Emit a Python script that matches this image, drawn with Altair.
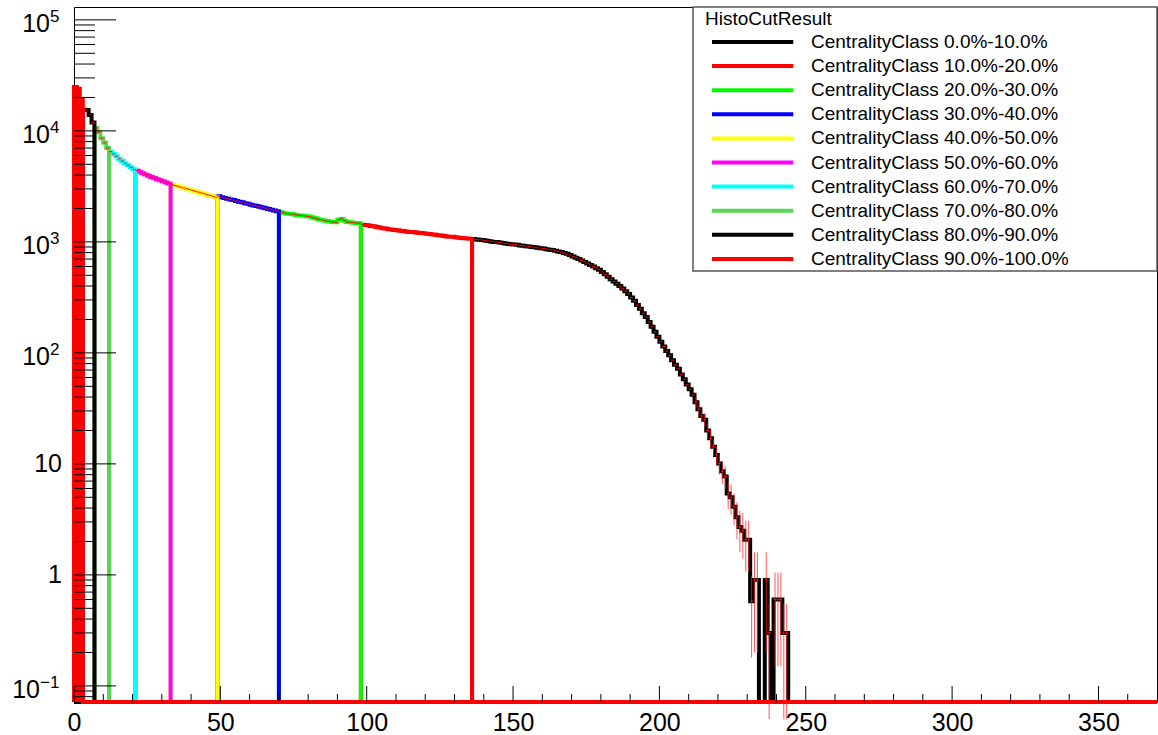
import altair as alt
import pandas as pd

# ---------------- data ----------------
# counts per multiplicity bin (bin b covers [b, b+1)), bins 0..243
counts = [
    24800, 24000, 19000,
    15500, 15400, 13900, 11900,
    10600, 9700, 8600, 7800, 7000,
    6500, 6200, 5900, 5600, 5350, 5100, 4900, 4700, 4500,
    4400, 4280, 4160, 4050, 3950, 3850, 3760, 3670, 3590, 3510, 3430, 3350,
    3280, 3220, 3170, 3110, 3060, 3010, 2960, 2910, 2860, 2810, 2760, 2710, 2660, 2620, 2570, 2520,
    2580, 2530, 2480, 2450, 2410, 2380, 2340, 2300, 2270, 2230, 2200, 2160, 2130, 2100, 2070, 2040, 2010, 1980, 1950, 1920, 1890,
    1860, 1830, 1800, 1790, 1780, 1760, 1740, 1730, 1720, 1700, 1690, 1660, 1630, 1600, 1580, 1560, 1540, 1525, 1510, 1500,
    1580, 1610, 1550, 1510, 1500, 1490, 1480, 1470,
    1430, 1420, 1410, 1390, 1380, 1360, 1350, 1330, 1320, 1300,
    1290, 1280, 1270, 1260, 1250, 1240, 1230, 1230, 1220, 1210,
    1200, 1195, 1185, 1175, 1165, 1160, 1150, 1140, 1130, 1120,
    1115, 1110, 1100, 1090, 1085, 1080, 1070, 1065,
    1060, 1050, 1045, 1040, 1030, 1020, 1010, 1000, 995, 985,
    975, 965, 955, 950, 945, 940, 930, 925, 915, 910,
    900, 895, 885, 878, 870, 860, 850, 845, 830, 820,
    810, 795, 780, 760, 740, 720, 700, 680, 660, 640,
    620, 600, 580, 560, 535, 510, 485, 460, 440, 420,
    400, 380, 360, 340, 315, 295, 270, 250, 228, 210,
    190, 172, 155, 140, 126, 114, 104, 95, 86, 78,
    72, 64, 58, 52, 47, 42, 36, 31, 27, 25,
    20, 17, 14.3, 12, 10.1, 8.6, 7.7, 5.4, 5, 4.1,
    3.3, 2.7, 2.5, 2.07, 2.07, 0.58, 0.9, 0.9, 0, 0,
    0.9, 0.3, 0, 0.6, 0.6, 0.6, 0.3, 0.3,
]

# visible error bars in the tail: bin -> error
err_bins = [212, 213, 214, 215, 216, 217, 218, 219, 220, 221, 222, 223, 224, 225,
            226, 227, 228, 229, 230, 231, 232, 233, 236, 237, 239, 240, 241, 242, 243]
err_vals = [4, 4, 3.5, 3.5, 3, 3, 2.5, 2.3, 2.1, 2.0, 1.8, 1.5, 1.5, 1.3,
            1.2, 1.1, 1.1, 1.0, 1.0, 0.4, 0.7, 0.7, 0.7, 0.25, 0.45, 0.45, 0.45, 0.25, 0.25]

class_labels = [f"CentralityClass {a:.1f}%-{a + 10:.1f}%" for a in range(0, 100, 10)]
class_lo = [136, 98, 70, 49, 33, 21, 12, 7, 3, 0]
class_hi = [244, 136, 98, 70, 49, 33, 21, 12, 7, 3]
class_colors = ["#000000", "#ff0000", "#00ff00", "#0000ff", "#ffff00",
                "#ff00ff", "#00ffff", "#59d454", "#000000", "#ff0000"]

x_max = 370
y_min = 0.0716
y_max = 1.306e5

# y-axis labels: plain numbers, and powers of ten (base + exponent)
y_plain_vals = [1, 10]
y_plain_text = ["1", "10"]
y_pow_vals = [100, 1000, 1e4, 1e5]
y_pow_exp = ["2", "3", "4", "5"]
y_neg_vals = [0.1]
y_neg_exp = ["−1"]

y_major = [0.1, 1, 10, 100, 1000, 1e4, 1e5]
x_major = [0, 50, 100, 150, 200, 250, 300, 350]
x_minor = [v for v in range(10, 370, 10) if v % 50 != 0]
y_minor = [k * 10.0 ** e for e in range(-2, 6) for k in range(2, 10)
           if y_min <= k * 10.0 ** e <= y_max]

# ---------------- tables ----------------
rows = []
for lab, lo, hi in zip(class_labels, class_lo, class_hi):
    seq = 0
    pts = [(0, y_min)]
    for b in range(lo, hi):
        v = counts[b]
        pts.append((b, v if v > 0 else y_min))
    pts.append((hi, y_min))
    pts.append((x_max, y_min))
    for x, y in pts:
        rows.append({"cls": lab, "x": x, "y": y, "seq": seq})
        seq += 1
hist_df = pd.DataFrame(rows)

# lowest class is drawn as a solid block
low_df = pd.DataFrame([{"xc": b + 0.5, "top": counts[b], "base": y_min}
                       for b in range(class_lo[-1], class_hi[-1])])

bins_df = pd.DataFrame([{"x": b, "x2": b + 1, "y": v}
                        for b, v in enumerate(counts) if v > 0])
err_df = pd.DataFrame([{"xc": b + 0.5, "lo": counts[b] - e, "hi": counts[b] + e}
                       for b, e in zip(err_bins, err_vals)])

W, H = 1083, 695
FONT = "Liberation Sans"

x_enc = alt.X("x:Q", scale=alt.Scale(domain=[0, x_max], nice=False, zero=False),
              axis=alt.Axis(values=x_major, ticks=False, domain=False, grid=False,
                            labelFont=FONT, labelFontSize=25, labelColor="black",
                            labelPadding=8, labelOverlap=False, labelFlush=False,
                            title=None))
y_scale = alt.Scale(type="log", domain=[y_min, y_max], nice=False)
y_enc = alt.Y("y:Q", scale=y_scale, axis=None)

color_enc = alt.Color(
    "cls:N",
    scale=alt.Scale(domain=class_labels, range=class_colors),
    legend=alt.Legend(
        title="HistoCutResult", orient="none", legendX=631, legendY=3,
        padding=0, symbolType="M-0.444,0H8.59", symbolSize=324,
        symbolStrokeWidth=4, labelOffset=84, labelLimit=500,
        labelFont=FONT, labelFontSize=19, labelColor="black",
        titleFont=FONT, titleFontSize=19, titleFontWeight="normal",
        titleColor="black", titlePadding=2, rowPadding=3.1,
    ),
)

layers = []
for lab in class_labels:
    layers.append(
        alt.Chart(hist_df).transform_filter(alt.datum.cls == lab)
        .mark_line(interpolate="step-after", strokeWidth=4, strokeJoin="miter")
        .encode(x=x_enc, y=y_enc, color=color_enc, order="seq:Q")
    )

low_block = alt.Chart(low_df).mark_rule(color=class_colors[-1], strokeWidth=3.2,
                                        strokeCap="butt").encode(
    x="xc:Q", y=alt.Y("top:Q", scale=y_scale), y2="base:Q")

# legend box
box = alt.Chart(pd.DataFrame({"a": [0]})).mark_rect(
    fill="white", stroke="#555555", strokeWidth=1.5
).encode(x=alt.value(619), x2=alt.value(W), y=alt.value(0), y2=alt.value(264))

# overall histogram (red) : horizontal bin-width bars + vertical errors
hbar = alt.Chart(bins_df).mark_rule(color="#ff0000", strokeWidth=1).encode(
    x="x:Q", x2="x2:Q", y=alt.Y("y:Q", scale=y_scale))
vbar = alt.Chart(err_df).mark_rule(color="#ff2020", strokeWidth=1, opacity=0.75).encode(
    x="xc:Q", y=alt.Y("lo:Q", scale=y_scale), y2="hi:Q")

# inner ticks (ROOT style)
ymaj = alt.Chart(pd.DataFrame({"y": y_major})).mark_rule(color="black", strokeWidth=1).encode(
    y=alt.Y("y:Q", scale=y_scale), x=alt.value(0), x2=alt.value(42))
ymin = alt.Chart(pd.DataFrame({"y": y_minor})).mark_rule(color="black", strokeWidth=1).encode(
    y=alt.Y("y:Q", scale=y_scale), x=alt.value(0), x2=alt.value(21))
xmaj = alt.Chart(pd.DataFrame({"x": x_major})).mark_rule(color="black", strokeWidth=1).encode(
    x="x:Q", y=alt.value(H), y2=alt.value(H - 16))
xmin = alt.Chart(pd.DataFrame({"x": x_minor})).mark_rule(color="black", strokeWidth=1).encode(
    x="x:Q", y=alt.value(H), y2=alt.value(H - 8))

# y labels
txt = dict(font=FONT, color="black", baseline="middle")
plain = alt.Chart(pd.DataFrame({"y": y_plain_vals, "t": y_plain_text})).mark_text(
    align="right", fontSize=25, **txt).encode(
    y=alt.Y("y:Q", scale=y_scale), x=alt.value(-12), text="t:N")
pow_df = pd.DataFrame({"y": y_pow_vals, "e": y_pow_exp})
pow_base = alt.Chart(pow_df).mark_text(align="right", fontSize=25, dy=4, **txt).encode(
    y=alt.Y("y:Q", scale=y_scale), x=alt.value(-24), text=alt.value("10"))
pow_exp = alt.Chart(pow_df).mark_text(align="left", fontSize=17, dy=-3, **txt).encode(
    y=alt.Y("y:Q", scale=y_scale), x=alt.value(-24), text="e:N")
neg_df = pd.DataFrame({"y": y_neg_vals, "e": y_neg_exp})
neg_base = alt.Chart(neg_df).mark_text(align="right", fontSize=25, dy=4, **txt).encode(
    y=alt.Y("y:Q", scale=y_scale), x=alt.value(-34), text=alt.value("10"))
neg_exp = alt.Chart(neg_df).mark_text(align="left", fontSize=17, dy=-3, **txt).encode(
    y=alt.Y("y:Q", scale=y_scale), x=alt.value(-34), text="e:N")

chart = alt.layer(*layers, low_block, hbar, vbar, ymaj, ymin, xmaj, xmin, box,
                  plain, pow_base, pow_exp, neg_base, neg_exp).properties(
    width=W, height=H,
    autosize=alt.AutoSizeParams(type="none"),
    padding={"left": 74, "top": 7, "right": 1, "bottom": 33},
    background="white",
).configure_view(stroke="black", strokeWidth=1)

chart.save("out.html", embed_options={"renderer": "svg", "actions": False})
